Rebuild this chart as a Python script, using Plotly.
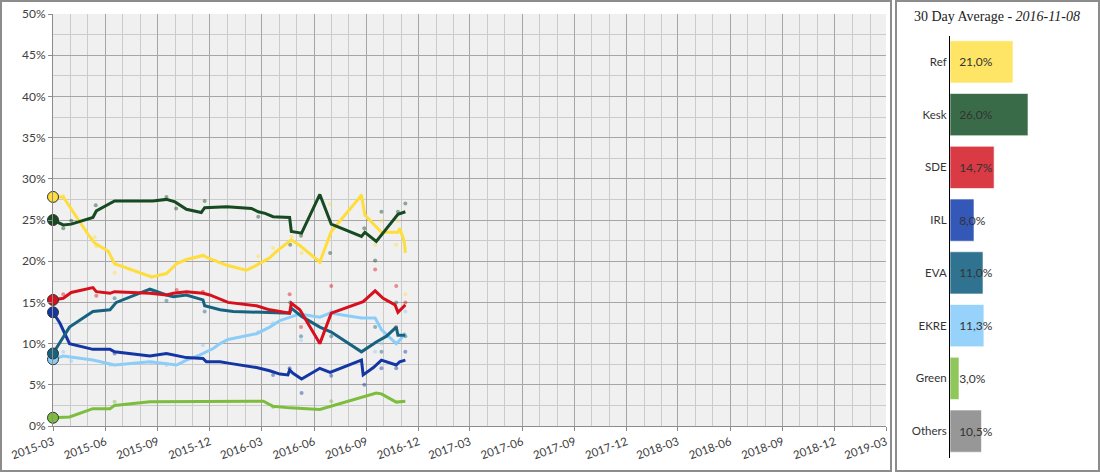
import plotly.graph_objects as go

# ---------------- data ----------------
ref_dates = ["2015-03-01","2015-03-19","2015-05-04","2015-05-13","2015-06-06","2015-06-17","2015-08-21","2015-09-16",
             "2015-10-04","2015-10-21","2015-11-19","2015-12-01","2015-12-31","2016-02-03","2016-02-18","2016-03-15",
             "2016-03-27","2016-04-22","2016-05-07","2016-06-11","2016-07-01","2016-08-23","2016-08-29","2016-09-27",
             "2016-10-26","2016-10-29","2016-11-06","2016-11-08"]
ref_vals = [27.8,27.8,23.0,22.2,21.2,19.7,18.1,18.5,19.7,20.2,20.7,20.3,19.5,18.9,19.4,20.4,21.2,22.6,21.9,19.9,
            23.6,28.0,25.6,23.5,23.5,24.0,22.4,21.0]

kesk_dates = ["2015-03-01","2015-03-19","2015-04-02","2015-05-10","2015-05-16","2015-06-17","2015-08-23","2015-09-16",
              "2015-10-01","2015-10-21","2015-11-16","2015-11-22","2015-12-31","2016-02-12","2016-02-24","2016-03-07",
              "2016-03-21","2016-04-19","2016-04-22","2016-05-10","2016-06-11","2016-07-01","2016-08-23","2016-08-29",
              "2016-09-18","2016-10-26","2016-11-08"]
kesk_vals = [25.0,24.4,24.5,25.3,26.1,27.3,27.3,27.5,27.2,26.3,25.9,26.5,26.6,26.4,26.0,25.8,25.4,25.3,23.6,23.4,
             28.1,24.5,23.0,23.5,22.4,25.7,26.0]

sde_dates = ["2015-03-01","2015-03-19","2015-04-02","2015-05-10","2015-05-16","2015-06-09","2015-06-17","2015-08-18",
             "2015-09-16","2015-09-28","2015-10-21","2015-11-19","2015-12-01","2016-01-02","2016-02-21","2016-03-15",
             "2016-04-02","2016-04-19","2016-04-22","2016-05-07","2016-06-11","2016-07-01","2016-08-26","2016-09-16",
             "2016-09-30","2016-10-21","2016-10-26","2016-11-08"]
sde_vals = [15.3,15.5,16.2,16.8,16.3,16.1,16.3,16.1,15.9,16.1,16.3,16.1,15.9,15.0,14.6,14.1,13.9,13.7,14.9,14.1,
            10.0,13.7,15.1,16.4,15.5,14.7,13.8,14.7]

irl_dates = ["2015-03-01","2015-03-13","2015-03-30","2015-05-10","2015-06-09","2015-06-17","2015-08-18","2015-09-16",
             "2015-10-21","2015-11-19","2015-11-25","2015-12-19","2016-01-05","2016-02-21","2016-03-15","2016-04-02",
             "2016-04-16","2016-04-19","2016-04-25","2016-05-10","2016-06-11","2016-06-29","2016-08-23","2016-08-26",
             "2016-09-13","2016-09-27","2016-10-23","2016-10-29","2016-11-08"]
irl_vals = [13.8,12.5,10.0,9.3,9.3,9.0,8.5,8.8,8.3,8.2,7.8,7.8,7.6,7.1,6.7,6.3,6.2,6.8,6.4,5.7,7.0,6.5,8.0,6.2,
            7.1,8.0,7.4,7.8,8.0]

eva_dates = ["2015-03-01","2015-03-30","2015-05-10","2015-06-09","2015-06-20","2015-08-18","2015-09-16","2015-09-28",
             "2015-10-21","2015-11-19","2015-11-22","2015-12-19","2016-01-11","2016-02-21","2016-04-14","2016-04-19",
             "2016-04-22","2016-05-10","2016-06-11","2016-07-01","2016-08-23","2016-09-18","2016-10-06","2016-10-23",
             "2016-10-26","2016-11-08"]
eva_vals = [8.8,12.0,13.9,14.1,15.0,16.6,15.9,15.7,15.9,15.3,14.6,14.1,13.9,13.8,13.7,13.7,14.3,13.3,12.0,11.4,
            9.0,10.2,10.9,12.0,11.0,11.0]

ekre_dates = ["2015-03-01","2015-03-19","2015-05-10","2015-06-09","2015-06-17","2015-08-18","2015-09-16","2015-10-04",
              "2015-10-21","2015-11-13","2015-12-07","2015-12-19","2016-01-02","2016-02-21","2016-03-15","2016-04-02",
              "2016-05-07","2016-06-11","2016-06-29","2016-08-23","2016-09-16","2016-09-27","2016-10-23","2016-10-29",
              "2016-11-08"]
ekre_vals = [8.1,8.5,8.0,7.5,7.4,7.8,7.6,7.4,8.0,8.6,9.4,10.0,10.5,11.2,12.0,12.8,13.6,13.2,13.7,13.1,13.1,11.7,
             10.0,10.4,11.3]

green_dates = ["2015-03-01","2015-03-30","2015-05-10","2015-06-09","2015-06-17","2015-08-18","2016-03-04","2016-03-21",
               "2016-04-19","2016-06-11","2016-09-18","2016-09-27","2016-10-23","2016-11-08"]
green_vals = [1.0,1.1,2.1,2.1,2.5,2.95,3.0,2.4,2.2,2.0,4.0,3.9,2.9,3.0]

# individual polls (faint dots)
ref_poll_dates = ["2015-03-19","2015-05-13","2015-05-16","2015-06-17","2015-08-21","2015-10-04","2015-11-19","2016-02-24",
                  "2016-03-21","2016-04-22","2016-05-10","2016-06-11","2016-06-29","2016-08-23","2016-09-16","2016-09-27",
                  "2016-10-23","2016-10-26","2016-11-08"]
ref_poll_vals = [27.9,22.9,21.8,18.6,18.1,19.8,20.7,20.6,21.6,23.0,21.0,19.9,26.9,28.0,22.0,24.9,22.0,24.9,16.0]
kesk_poll_dates = ["2015-03-19","2015-04-02","2015-05-15","2015-09-16","2015-10-03","2015-11-22","2016-02-24","2016-04-20",
                   "2016-05-09","2016-06-29","2016-08-28","2016-09-16","2016-09-27","2016-10-26","2016-11-08"]
kesk_poll_vals = [24.0,24.9,26.8,27.8,26.4,27.3,25.4,22.0,23.1,21.0,24.0,20.1,26.0,26.0,27.0]
sde_poll_dates = ["2015-03-19","2015-05-16","2015-10-04","2015-11-19","2016-04-19","2016-05-09","2016-07-01","2016-09-16",
                  "2016-10-23","2016-10-23","2016-11-08"]
sde_poll_vals = [16.0,15.8,16.5,16.3,16.0,12.0,17.0,19.0,17.0,12.0,15.0]
eva_poll_dates = ["2015-06-17","2015-09-16","2015-11-22","2016-04-20","2016-05-09","2016-07-01","2016-09-16","2016-09-27",
                  "2016-10-23","2016-11-08"]
eva_poll_vals = [15.5,15.2,13.9,15.0,10.9,10.9,12.0,9.0,15.0,10.9]
irl_poll_dates = ["2015-06-17","2016-03-21","2016-04-19","2016-05-10","2016-07-01","2016-08-28","2016-09-27","2016-10-23",
                  "2016-11-08"]
irl_poll_vals = [8.8,6.2,7.0,4.0,6.1,5.0,7.0,7.0,9.0]
ekre_poll_dates = ["2015-03-19","2015-04-02","2015-06-09","2015-08-21","2015-09-16","2015-11-19","2016-02-24","2016-03-21",
                   "2016-05-09","2016-07-01","2016-09-16","2016-09-27","2016-11-08"]
ekre_poll_vals = [9.0,7.9,7.4,7.7,7.4,9.8,11.4,12.5,10.4,13.9,9.0,10.0,13.9]
green_poll_dates = ["2015-06-17","2016-03-21","2016-07-01"]
green_poll_vals = [2.95,2.3,3.0]

# 30 day average panel
avg_parties = ["Ref","Kesk","SDE","IRL","EVA","EKRE","Green","Others"]
avg_vals = [21.0,26.0,14.7,8.0,11.0,11.3,3.0,10.5]
avg_labels = ["21,0%","26,0%","14,7%","8,0%","11,0%","11,3%","3,0%","10,5%"]
avg_date = "2016-11-08"

y_ticks = [0,5,10,15,20,25,30,35,40,45,50]

# ---------------- styles ----------------
col = {"Ref":"#fedd3c","Kesk":"#174a22","SDE":"#d6101c","IRL":"#1436a3","EVA":"#17637f",
       "EKRE":"#8ccdf7","Green":"#7dbd3e","Others":"#8a8a8a"}
bar_col = {"Ref":"#fee566","Kesk":"#3a6b48","SDE":"#d93a44","IRL":"#3358b8","EVA":"#2f7391",
           "EKRE":"#96d2fa","Green":"#8fc75a","Others":"#979797"}

series = [
    ("Green", green_dates, green_vals, green_poll_dates, green_poll_vals),
    ("EKRE", ekre_dates, ekre_vals, ekre_poll_dates, ekre_poll_vals),
    ("IRL", irl_dates, irl_vals, irl_poll_dates, irl_poll_vals),
    ("EVA", eva_dates, eva_vals, eva_poll_dates, eva_poll_vals),
    ("SDE", sde_dates, sde_vals, sde_poll_dates, sde_poll_vals),
    ("Ref", ref_dates, ref_vals, ref_poll_dates, ref_poll_vals),
    ("Kesk", kesk_dates, kesk_vals, kesk_poll_dates, kesk_poll_vals),
]

FONT = "Lato"
W, H = 1100, 473

fig = go.Figure()

for name, d, v, pd_, pv in series:
    fig.add_trace(go.Scatter(x=pd_, y=pv, mode="markers", showlegend=False, hoverinfo="skip",
                             marker=dict(size=4, color=col[name], opacity=0.45)))
for name, d, v, pd_, pv in series:
    fig.add_trace(go.Scatter(x=d, y=v, mode="lines", showlegend=False, name=name,
                             line=dict(color=col[name], width=3)))
for name, d, v, pd_, pv in series:
    fig.add_trace(go.Scatter(x=d[:1], y=v[:1], mode="markers", showlegend=False, hoverinfo="skip",
                             cliponaxis=False,
                             marker=dict(size=11, color=col[name], line=dict(color="#333333", width=1))))

fig.add_trace(go.Bar(
    x=avg_vals, y=avg_parties, orientation="h", xaxis="x2", yaxis="y2", showlegend=False,
    marker=dict(color=[bar_col[p] for p in avg_parties], line=dict(color="rgba(255,255,255,0.6)", width=1)),
    width=0.8, text=avg_labels, texttemplate="\u00a0\u00a0%{text}",
    textposition="inside", insidetextanchor="start", constraintext="none",
    textangle=0, insidetextfont=dict(family=FONT, size=12, color="#333333"), cliponaxis=False))

fig.update_layout(
    width=W, height=H, margin=dict(l=0, r=0, t=0, b=0, autoexpand=False),
    paper_bgcolor="white", plot_bgcolor="rgba(0,0,0,0)",
    font=dict(family=FONT, size=11, color="#404040"),
    xaxis=dict(domain=[53/W, 886/W], type="date", range=["2015-03-01", "2019-03-01"],
               tick0="2015-03-01", dtick="M3", tickformat="%Y-%m", tickangle=-20,
               showgrid=True, gridcolor="#a6a6a6", gridwidth=1,
               minor=dict(dtick="M1", showgrid=True, gridcolor="#cbcbcb", gridwidth=1),
               ticks="outside", ticklen=4, tickcolor="#8c8c8c", automargin=False,
               showline=True, linecolor="#8c8c8c", linewidth=1, zeroline=False,
               tickfont=dict(family=FONT, size=11.5, color="#404040"), anchor="y"),
    yaxis=dict(domain=[(H-426)/H, (H-14)/H], range=[0, 50], tickvals=y_ticks,
               ticktext=[f"{t}%" for t in y_ticks], automargin=False,
               showgrid=True, gridcolor="#a6a6a6", gridwidth=1,
               minor=dict(dtick=2.5, showgrid=True, gridcolor="#cbcbcb", gridwidth=1),
               ticks="outside", ticklen=4, tickcolor="#8c8c8c",
               showline=True, linecolor="#8c8c8c", linewidth=1, zeroline=False,
               tickfont=dict(family=FONT, size=12, color="#404040"), anchor="x"),
    xaxis2=dict(domain=[950/W, 1.0], range=[0, 50], visible=False, anchor="y2", automargin=False),
    yaxis2=dict(domain=[(H-457.5)/H, (H-35.5)/H], type="category", autorange="reversed",
                showline=True, linecolor="#000000", linewidth=1, ticks="", showgrid=False,
                automargin=False,
                tickfont=dict(family=FONT, size=11.5, color="#333333"), anchor="x2"),
    bargap=0.2,
    shapes=[
        dict(type="rect", xref="x domain", yref="y domain", x0=0, x1=1, y0=0, y1=1,
             fillcolor="#f0f0f0", line=dict(width=0), layer="below"),
        dict(type="rect", xref="paper", yref="paper", x0=1/W, x1=891/W, y0=2/H, y1=1-1/H,
             line=dict(color="#8c8c8c", width=2), layer="below"),
        dict(type="rect", xref="paper", yref="paper", x0=896/W, x1=1099/W, y0=2/H, y1=1-1/H,
             line=dict(color="#8c8c8c", width=2), layer="below"),
    ],
    annotations=[
        dict(xref="paper", yref="paper", x=997/W, y=(H-17)/H, xanchor="center", yanchor="middle",
             showarrow=False, text=f"30 Day Average - <i>{avg_date}</i>",
             font=dict(family="Liberation Serif", size=14, color="#222222")),
    ],
)

fig.write_html("out.html", config={"displayModeBar": False},
               post_script="document.body.style.margin='0';")
